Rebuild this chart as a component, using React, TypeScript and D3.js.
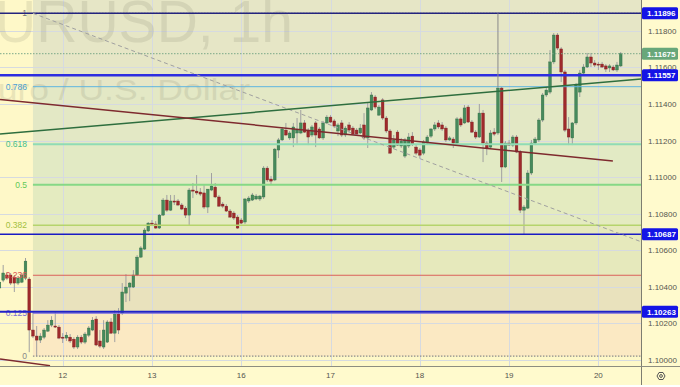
import React from "react";
import * as d3 from "d3";

// EURUSD 1h candles, one value per bar (bar 0 = 11th, ~07:00)
const opens = [
  1.10393, 1.10436, 1.10464, 1.10464, 1.10453, 1.1042, 1.10425, 1.10447, 1.10442, 1.10163, 1.1013, 1.10108,
  1.10124, 1.10157, 1.1019, 1.10185, 1.10179, 1.10124, 1.10119, 1.10124, 1.10113, 1.1007, 1.10124, 1.10097,
  1.10135, 1.10163, 1.10223, 1.10103, 1.1007, 1.10097, 1.10207, 1.10146, 1.1025, 1.10256, 1.10365, 1.10398,
  1.10398, 1.10464, 1.10562, 1.10606, 1.10705, 1.10748, 1.10743, 1.10721, 1.10792, 1.10874, 1.10819, 1.10869,
  1.10869, 1.10847, 1.1083, 1.10792, 1.10929, 1.10923, 1.10918, 1.10913, 1.10836, 1.10929, 1.10945, 1.10891,
  1.10852, 1.10841, 1.10814, 1.10803, 1.10781, 1.10765, 1.10754, 1.10869, 1.10874, 1.1088, 1.1088, 1.10891,
  1.11049, 1.10989, 1.10984, 1.11148, 1.11203, 1.11257, 1.11214, 1.11214, 1.11241, 1.11241, 1.11296, 1.11257,
  1.1123, 1.11296, 1.11263, 1.11214, 1.11296, 1.11328, 1.11307, 1.11252, 1.11296, 1.1123, 1.11285, 1.11268,
  1.11257, 1.11241, 1.11285, 1.11214, 1.11367, 1.11438, 1.11339, 1.11422, 1.11323, 1.11252, 1.11164, 1.11246,
  1.1117, 1.11115, 1.1117, 1.11224, 1.11164, 1.11148, 1.11131, 1.11186, 1.11224, 1.11263, 1.11296, 1.11285,
  1.11268, 1.11203, 1.11208, 1.11186, 1.11318, 1.11296, 1.11383, 1.11301, 1.11246, 1.11219, 1.1135, 1.11186,
  1.11164, 1.11246, 1.11241, 1.11487, 1.11055, 1.11186, 1.11175, 1.11219, 1.11137, 1.10819, 1.1083, 1.11022,
  1.11186, 1.11203, 1.11312, 1.11449, 1.11465, 1.1163, 1.11777, 1.11701, 1.11575, 1.11263, 1.11214, 1.11296,
  1.11465, 1.11569, 1.11602, 1.11657, 1.11624, 1.11618, 1.11618, 1.11608, 1.11597, 1.11602, 1.11586, 1.11608,
];
const highs = [
  1.10436, 1.10519, 1.1048, 1.10475, 1.10464, 1.10458, 1.10475, 1.10557, 1.10453, 1.10261, 1.10185, 1.10146,
  1.10174, 1.10217, 1.10239, 1.10261, 1.1019, 1.10146, 1.10152, 1.10141, 1.10124, 1.10135, 1.10135, 1.10152,
  1.10185, 1.10234, 1.10239, 1.10163, 1.10217, 1.10217, 1.10228, 1.10272, 1.10283, 1.1042, 1.10469, 1.10425,
  1.10491, 1.10573, 1.10622, 1.10721, 1.10754, 1.10765, 1.10759, 1.10798, 1.10885, 1.10902, 1.10902, 1.10902,
  1.1088, 1.10858, 1.10841, 1.1094, 1.10967, 1.11011, 1.1094, 1.10956, 1.10934, 1.11022, 1.10967, 1.10902,
  1.10863, 1.10852, 1.10825, 1.10814, 1.10792, 1.10776, 1.10885, 1.10896, 1.10913, 1.10907, 1.10902, 1.1106,
  1.1106, 1.11006, 1.11159, 1.11214, 1.11274, 1.11296, 1.11252, 1.11296, 1.11323, 1.11367, 1.11312, 1.11268,
  1.11285, 1.11307, 1.11274, 1.11307, 1.11339, 1.11339, 1.11318, 1.11296, 1.11312, 1.11279, 1.11301, 1.11279,
  1.11268, 1.1129, 1.1135, 1.11405, 1.11465, 1.11449, 1.11394, 1.11432, 1.11334, 1.11263, 1.1123, 1.11257,
  1.11214, 1.11214, 1.11241, 1.11246, 1.11175, 1.11159, 1.11203, 1.1123, 1.11268, 1.11301, 1.11312, 1.11301,
  1.11279, 1.11224, 1.11219, 1.11328, 1.11328, 1.11394, 1.11394, 1.11312, 1.11257, 1.114, 1.11367, 1.11197,
  1.11257, 1.11268, 1.11493, 1.11493, 1.11197, 1.11203, 1.1123, 1.1123, 1.11148, 1.10847, 1.11038, 1.11203,
  1.11219, 1.11323, 1.1146, 1.11493, 1.11695, 1.11788, 1.11788, 1.11711, 1.11586, 1.11328, 1.11301, 1.11514,
  1.11586, 1.11618, 1.11679, 1.11679, 1.1164, 1.1163, 1.1163, 1.11618, 1.11618, 1.11613, 1.1163, 1.11684,
];
const lows = [
  1.10376, 1.10425, 1.10436, 1.10409, 1.10371, 1.10409, 1.1042, 1.10436, 1.10042, 1.10119, 1.1002, 1.10092,
  1.10113, 1.10152, 1.10179, 1.10174, 1.10113, 1.10092, 1.10103, 1.10092, 1.10059, 1.10059, 1.10086, 1.10086,
  1.10124, 1.10157, 1.10075, 1.10064, 1.10059, 1.10092, 1.10141, 1.10097, 1.10141, 1.10245, 1.10316, 1.10321,
  1.10393, 1.10458, 1.10557, 1.10601, 1.10699, 1.10732, 1.10716, 1.10716, 1.10787, 1.10809, 1.10814, 1.10847,
  1.10841, 1.10819, 1.10776, 1.10737, 1.10885, 1.10902, 1.10896, 1.10825, 1.10803, 1.10923, 1.10885, 1.10836,
  1.1083, 1.10809, 1.10776, 1.10765, 1.10716, 1.10743, 1.10743, 1.10858, 1.10869, 1.10874, 1.10869, 1.1088,
  1.10973, 1.10962, 1.10978, 1.11104, 1.11197, 1.11224, 1.11203, 1.11164, 1.11175, 1.11235, 1.11241, 1.11175,
  1.11219, 1.11164, 1.11208, 1.11203, 1.1129, 1.11296, 1.11268, 1.11224, 1.11219, 1.11219, 1.11246, 1.1123,
  1.1123, 1.11235, 1.11203, 1.11159, 1.11361, 1.11372, 1.11334, 1.11312, 1.11241, 1.11126, 1.11153, 1.1117,
  1.11159, 1.11104, 1.11159, 1.1117, 1.1112, 1.11104, 1.1112, 1.11175, 1.11214, 1.11252, 1.11263, 1.11252,
  1.11192, 1.11197, 1.11159, 1.11175, 1.11274, 1.1129, 1.11296, 1.11241, 1.11208, 1.11214, 1.11082, 1.1112,
  1.11153, 1.11224, 1.1123, 1.10973, 1.11049, 1.1117, 1.11164, 1.11131, 1.10803, 1.10688, 1.10825, 1.11011,
  1.11175, 1.11192, 1.11301, 1.11438, 1.11454, 1.11618, 1.11695, 1.1152, 1.11246, 1.11175, 1.11175, 1.11285,
  1.11438, 1.11558, 1.11597, 1.11602, 1.11602, 1.11586, 1.11597, 1.11575, 1.11575, 1.1158, 1.11575, 1.11602,
];
const closes = [
  1.10425, 1.10475, 1.10447, 1.1042, 1.1042, 1.10447, 1.10464, 1.1054, 1.10163, 1.1013, 1.10108, 1.1013,
  1.10163, 1.1019, 1.10217, 1.10179, 1.10119, 1.10119, 1.10135, 1.10103, 1.1007, 1.10124, 1.10097, 1.10141,
  1.10174, 1.10217, 1.10081, 1.10075, 1.10163, 1.10207, 1.10146, 1.1025, 1.10163, 1.10371, 1.10398, 1.1042,
  1.10464, 1.10562, 1.10612, 1.1071, 1.10748, 1.10743, 1.10721, 1.10792, 1.10874, 1.10819, 1.10869, 1.10863,
  1.10847, 1.10825, 1.10792, 1.10929, 1.10923, 1.10913, 1.10907, 1.10836, 1.10934, 1.10951, 1.10891, 1.10841,
  1.10841, 1.10814, 1.10781, 1.10776, 1.10721, 1.10748, 1.1088, 1.10885, 1.10902, 1.10896, 1.10896, 1.11049,
  1.10984, 1.10978, 1.11153, 1.11203, 1.11263, 1.1123, 1.11241, 1.11274, 1.11257, 1.11296, 1.11246, 1.11219,
  1.11274, 1.1123, 1.11214, 1.11296, 1.11328, 1.11301, 1.11279, 1.11285, 1.1123, 1.11268, 1.11257, 1.11235,
  1.11235, 1.11268, 1.11214, 1.11378, 1.11449, 1.11383, 1.11383, 1.11323, 1.11252, 1.11131, 1.11203, 1.11175,
  1.11197, 1.11203, 1.11219, 1.11181, 1.11131, 1.1112, 1.11192, 1.11219, 1.11263, 1.11285, 1.11274, 1.11263,
  1.11203, 1.11214, 1.11186, 1.11318, 1.11285, 1.11378, 1.11301, 1.11246, 1.11219, 1.1135, 1.11186, 1.11159,
  1.11241, 1.11235, 1.11487, 1.11055, 1.11186, 1.11175, 1.11219, 1.11137, 1.10819, 1.10836, 1.11022, 1.11186,
  1.11208, 1.11312, 1.11449, 1.11476, 1.1163, 1.11777, 1.11706, 1.11575, 1.11257, 1.11219, 1.11296, 1.11504,
  1.11569, 1.11602, 1.11657, 1.11624, 1.11613, 1.11613, 1.11602, 1.11591, 1.11608, 1.11586, 1.11613, 1.11675,
];

const dayLabels = ["12", "13", "16", "17", "18", "19", "20"];
const dayStartBars = [17, 41, 65, 89, 113, 137, 161];
const priceTicks = [1.1, 1.102, 1.104, 1.106, 1.108, 1.11, 1.112, 1.114, 1.116, 1.118];

// fibonacci retracement
const fibLow = 1.1002;
const fibHigh = 1.11896;
const fibStartBar = 9;
const fibLevels = [1, 0.786, 0.618, 0.5, 0.382, 0.236, 0.125, 0];
const fibLabels = ["1", "0.786", "0.618", "0.5", "0.382", "0.236", "0.125", "0"];
const fibLineColors = ["#8c8c8c", "#5fb4e0", "#8fdcb4", "#86d886", "#b5d46c", "#d9605a", "#7f6fe0", "#8c8c8c"];
const fibTextColors = ["#777777", "#4a9fd6", "#45c08a", "#62c957", "#a3bf3f", "#d9534f", "#7b6fd6", "#888888"];
const fibFills = ["#e6e6c6", "#e3e8c5", "#e2eac4", "#e4ebc0", "#e6e9bc", "#e9e2bd", "#fbe9c3"];

// horizontal levels drawn on the chart
const levelPrices = [1.11896, 1.11557, 1.10687, 1.10263];
const lastPrice = 1.11675;

// trend lines: [bar, price] end points
const greenTrendBars = [0.15, 172.5];
const greenTrendPrices = [1.11235, 1.11536];
const redTrendBars = [0.15, 164.9];
const redTrendPrices = [1.11425, 1.11088];
const redTrend2Bars = [0.15, 13.6];
const redTrend2Prices = [1.10004, 1.09968];
const diagBars = [9, 172.5];
const diagPrices = [1.11896, 1.10646];
const vLineBar = 134;
const vLinePrices = [1.11896, 1.11493];

const W = 680;
const H = 387;
const PW = 641;
const PH = 366;
const BAR = 3.72;
const font = "'Liberation Sans', Arial, sans-serif";

export default function App() {
  const x = d3.scaleLinear().domain([0.145, 0.145 + PW / BAR]).range([0, PW]);
  const y = d3.scaleLinear().domain([1.099662, 1.119688]).range([PH, 0]);
  const fibPrice = (l: number) => fibLow + l * (fibHigh - fibLow);
  const fx = x(fibStartBar);
  const line = d3.line<[number, number]>().x((d) => x(d[0])).y((d) => y(d[1]));
  const seg = (bars: number[], prices: number[]) =>
    line(bars.map((b, i) => [b, prices[i]] as [number, number])) || "";
  const fmt = d3.format(".5f");

  const boxes = [
    { p: levelPrices[0], c: "#1414e6" },
    { p: lastPrice, c: "#68a77a" },
    { p: levelPrices[1], c: "#1414e6" },
    { p: levelPrices[2], c: "#1414e6" },
    { p: levelPrices[3], c: "#1414e6" },
  ];

  return (
    <svg width={W} height={H} style={{ position: "absolute", left: 0, top: 0 }} fontFamily={font}>
      <defs>
        <clipPath id="plot">
          <rect x={0} y={0} width={PW} height={PH} />
        </clipPath>
      </defs>
      <rect x={0} y={0} width={W} height={385} fill="#fef8c8" />

      <g clipPath="url(#plot)">
        {/* fib zones */}
        <rect x={fx} y={0} width={PW - fx} height={y(fibHigh)} fill={fibFills[0]} />
        {fibFills.map((c, i) => (
          <rect key={i} x={fx} y={y(fibPrice(fibLevels[i]))} width={PW - fx}
            height={y(fibPrice(fibLevels[i + 1])) - y(fibPrice(fibLevels[i]))} fill={c} />
        ))}

        {/* grid */}
        {priceTicks.map((p) => (
          <line key={p} x1={0} x2={PW} y1={Math.round(y(p)) + 0.5} y2={Math.round(y(p)) + 0.5} stroke="#d6dae0" />
        ))}
        {dayStartBars.map((b) => (
          <line key={b} x1={Math.round(x(b)) + 0.5} x2={Math.round(x(b)) + 0.5} y1={0} y2={PH} stroke="#d6dae0" />
        ))}

        {/* watermark */}
        <text x={-43} y={42} fontSize={60} textLength={336} lengthAdjust="spacingAndGlyphs" fill="#6e6e5a" opacity={0.14}>
          EURUSD, 1h
        </text>
        <text x={-26} y={100} fontSize={29} textLength={276} lengthAdjust="spacingAndGlyphs" fill="#6e6e5a" opacity={0.14}>
          Euro / U.S. Dollar
        </text>

        {/* candles */}
        {opens.map((o, i) => {
          const c = closes[i];
          const up = c >= o;
          const cx = x(i);
          const top = y(Math.max(o, c));
          const h = Math.max(1, y(Math.min(o, c)) - top);
          return (
            <g key={i}>
              <line x1={cx} x2={cx} y1={y(highs[i])} y2={y(lows[i])} stroke="#a0a0a0" strokeWidth={1} />
              <rect x={cx - 1.35} y={top} width={2.7} height={h} fill={up ? "#468a5c" : "#9f2a2c"}
                stroke={up ? "#2f6b43" : "#7c1c1e"} strokeWidth={0.4} />
            </g>
          );
        })}

        {/* fib lines */}
        {fibLevels.map((l, i) => {
          const yy = y(fibPrice(l));
          const dotted = l === 0 || l === 1;
          const w = l === 0.618 || l === 0.5 ? 2 : l === 0.382 ? 1.5 : dotted ? 1.2 : 1;
          return (
            <g key={l}>
              <line x1={fx} x2={PW} y1={yy} y2={yy} stroke={fibLineColors[i]} strokeWidth={w}
                strokeDasharray={dotted ? "1.5 1.5" : undefined} />
              <text x={27} y={yy + 3} textAnchor="end" fontSize={8.5} fill={fibTextColors[i]}>
                {fibLabels[i]}
              </text>
            </g>
          );
        })}

        {/* horizontal levels */}
        <line x1={0} x2={PW} y1={y(lastPrice)} y2={y(lastPrice)} stroke="#7aa888" strokeWidth={1} strokeDasharray="1.5 1.5" />
        <line x1={0} x2={PW} y1={y(levelPrices[0])} y2={y(levelPrices[0])} stroke="#24247e" strokeWidth={1.5} />
        <line x1={0} x2={PW} y1={y(levelPrices[1])} y2={y(levelPrices[1])} stroke="#2d2de0" strokeWidth={2.5} />
        <line x1={0} x2={PW} y1={y(levelPrices[2])} y2={y(levelPrices[2])} stroke="#1a1ac4" strokeWidth={1.6} />
        <line x1={0} x2={PW} y1={y(levelPrices[3])} y2={y(levelPrices[3])} stroke="#2020c8" strokeWidth={1.8} />

        {/* trend lines */}
        <path d={seg(diagBars, diagPrices)} stroke="#a0a0a0" strokeWidth={1} strokeDasharray="4 3" fill="none" />
        <path d={seg(greenTrendBars, greenTrendPrices)} stroke="#2e6e3e" strokeWidth={1.5} fill="none" />
        <path d={seg(redTrendBars, redTrendPrices)} stroke="#7e2a2e" strokeWidth={1.5} fill="none" />
        <path d={seg(redTrend2Bars, redTrend2Prices)} stroke="#7e2a2e" strokeWidth={1.5} fill="none" />
        <line x1={x(vLineBar)} x2={x(vLineBar)} y1={y(vLinePrices[0])} y2={y(vLinePrices[1])} stroke="#8a8a8a" strokeWidth={1} />
      </g>

      {/* price axis */}
      <rect x={PW} y={0} width={W - PW} height={385} fill="#fffacd" />
      <line x1={PW + 0.5} x2={PW + 0.5} y1={0} y2={385} stroke="#7d7d70" />
      <rect x={0} y={PH} width={PW} height={385 - PH} fill="#fffacd" />
      <line x1={0} x2={W} y1={PH + 0.5} y2={PH + 0.5} stroke="#8d8d80" />
      {priceTicks.map((p) => (
        <text key={p} x={648} y={y(p) + 3} fontSize={8} fill="#55554f">
          {fmt(p)}
        </text>
      ))}
      {boxes.map((b) => (
        <g key={b.p}>
          <rect x={642} y={y(b.p) - 6} width={36} height={12} rx={1.5} fill={b.c} />
          <text x={647} y={y(b.p) + 3} fontSize={8} fontWeight="bold" fill="#ffffff">
            {fmt(b.p)}
          </text>
        </g>
      ))}

      {/* time axis */}
      {dayStartBars.map((b, i) => (
        <text key={b} x={x(b)} y={378} textAnchor="middle" fontSize={8} fill="#55554f">
          {dayLabels[i]}
        </text>
      ))}
      <g transform="translate(661,376)" fill="none" stroke="#555" strokeWidth={1}>
        <polygon points="-4,0 -2,-3.5 2,-3.5 4,0 2,3.5 -2,3.5" />
        <circle r={1.4} />
      </g>
    </svg>
  );
}
